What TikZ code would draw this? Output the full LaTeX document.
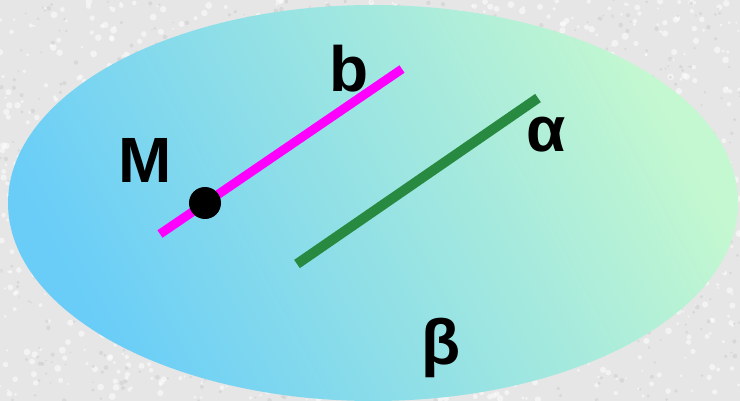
\documentclass[tikz,border=0pt]{standalone}
\usepackage{fontspec}
\setmainfont{Liberation Sans}
\usepackage{tikz}
\usetikzlibrary{positioning}
\definecolor{bggray}{RGB}{230,230,230}
\definecolor{speckgray}{RGB}{200,200,200}
\definecolor{planeblue}{RGB}{105,205,248}
\definecolor{planegreen}{RGB}{196,248,208}
\definecolor{lineb}{RGB}{255,0,255}
\definecolor{linealpha}{RGB}{40,138,64}
\tikzset{
  plane/.style={bottom color=planeblue,top color=planegreen,shading angle=-62},
  lbl/.style={font=\fontsize{64}{64}\selectfont\bfseries,inner sep=0pt,anchor=base},
  lineseg/.style={line width=9pt,line cap=butt},
  speck/.style={fill=speckgray,opacity=0.45},
  speckw/.style={fill=white,opacity=0.55}
}
\begin{document}
\begin{tikzpicture}[x=1pt,y=-1pt]
  \useasboundingbox (0,0) rectangle (740,401);
  % textured backdrop
  \fill[bggray] (0,0) rectangle (740,401);
  \pgfmathsetseed{7}
  \foreach \i in {1,...,1400}{
    \pgfmathsetmacro{\sx}{740*rnd}
    \pgfmathsetmacro{\sy}{401*rnd}
    \pgfmathsetmacro{\sr}{1+2.5*rnd}
    \fill[speckw] (\sx,\sy) circle (\sr);
  }
  \foreach \i in {1,...,900}{
    \pgfmathsetmacro{\sx}{740*rnd}
    \pgfmathsetmacro{\sy}{401*rnd}
    \pgfmathsetmacro{\sr}{0.8+1.6*rnd}
    \fill[speck] (\sx,\sy) circle (\sr);
  }
  % plane beta
  \shade[plane] (373,203) ellipse (365 and 198);
  \coordinate (b1) at (160,234);
  \coordinate (b2) at (402,69);
  \coordinate (a1) at (297,264);
  \coordinate (a2) at (538,98);
  \coordinate (M) at (205,203);
  \draw[lineseg,draw=lineb] (b1) -- (b2);
  \draw[lineseg,draw=linealpha,line width=10pt] (a1) -- (a2);
  \fill[black] (M) circle (16);
  \node[lbl] (Mlbl) at (145,183) {M};
  \node[lbl] (blbl) at (349,92) {b};
  \node[lbl] (albl) at (546,152) {α};
  \node[lbl] (betalbl) at (441,364) {β};
\end{tikzpicture}
\end{document}
